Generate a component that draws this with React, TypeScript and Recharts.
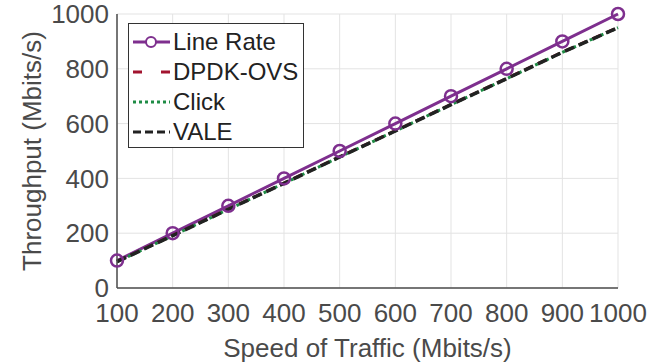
import React from 'react';
import { LineChart, Line, XAxis, YAxis, CartesianGrid } from 'recharts';

const speeds = [100, 200, 300, 400, 500, 600, 700, 800, 900, 1000];
const lineRate = [100, 200, 300, 400, 500, 600, 700, 800, 900, 1000];
const dpdkOvs = [97, 192, 288, 383, 479, 574, 670, 765, 861, 951];
const click = [96, 191, 287, 382, 478, 573, 669, 764, 860, 950];
const vale = [96, 191, 287, 382, 478, 573, 669, 764, 860, 950];

const xTicks = [100, 200, 300, 400, 500, 600, 700, 800, 900, 1000];
const yTicks = [0, 200, 400, 600, 800, 1000];

const data = speeds.map((s, i) => ({
  speed: s,
  lineRate: lineRate[i],
  dpdkOvs: dpdkOvs[i],
  click: click[i],
  vale: vale[i],
}));

const series = [
  { key: 'lineRate', name: 'Line Rate', color: '#7E2F8E', width: 3, dash: undefined, legendDash: undefined, marker: true },
  { key: 'dpdkOvs', name: 'DPDK-OVS', color: '#A2142F', width: 3, dash: '9 6', legendDash: '9 19', marker: false },
  { key: 'click', name: 'Click', color: '#1E8C45', width: 3, dash: '3 3', legendDash: '3 3', marker: false },
  { key: 'vale', name: 'VALE', color: '#222222', width: 3.5, dash: '10 5', legendDash: '8 4', marker: false },
];

const FONT = '"Liberation Sans", Arial, Helvetica, sans-serif';
const TEXT = '#4a4a4a';
const AXIS = '#4d4d4d';

// legend drawn as an overlay so the plot area keeps its size
const LegendBox = () => (
  <div
    style={{
      position: 'absolute',
      left: 128,
      top: 23,
      width: 176,
      height: 125,
      border: '1px solid #333',
      background: '#fff',
      boxSizing: 'border-box',
      paddingTop: 3,
    }}
  >
    {series.map((s) => (
      <div key={s.key} style={{ display: 'flex', alignItems: 'center', height: 30 }}>
        <svg width={44} height={20} style={{ flexShrink: 0 }}>
          <line x1={4} y1={10} x2={41} y2={10} stroke={s.color} strokeWidth={3} strokeDasharray={s.legendDash} />
          {s.marker && <circle cx={22} cy={10} r={5} fill="#fff" stroke={s.color} strokeWidth={2} />}
        </svg>
        <span style={{ fontFamily: FONT, fontSize: 24, color: '#222', lineHeight: '30px' }}>{s.name}</span>
      </div>
    ))}
  </div>
);

export default function App() {
  return (
    <div style={{ position: 'absolute', left: 0, top: 0, width: 670, height: 362, background: '#fff' }}>
      <LineChart width={670} height={362} data={data} margin={{ top: 14, right: 52, left: 0, bottom: 0 }}>
        <CartesianGrid stroke="#e3e3e3" strokeWidth={1} />
        <XAxis
          dataKey="speed"
          type="number"
          domain={[100, 1000]}
          ticks={xTicks}
          interval={0}
          height={74}
          tickLine={false}
          tickMargin={10}
          axisLine={{ stroke: AXIS, strokeWidth: 1.5 }}
          tick={{ fontSize: 26, fill: TEXT, fontFamily: FONT }}
          label={{ value: 'Speed of Traffic (Mbits/s)', position: 'insideBottom', offset: 5, fontSize: 26, fill: TEXT, fontFamily: FONT }}
        />
        <XAxis xAxisId="top" orientation="top" dataKey="speed" type="number" domain={[100, 1000]} height={0} tick={false} tickLine={false} axisLine={{ stroke: AXIS, strokeWidth: 1.5 }} />
        <YAxis
          type="number"
          domain={[0, 1000]}
          ticks={yTicks}
          interval={0}
          width={117}
          tickLine={false}
          axisLine={{ stroke: AXIS, strokeWidth: 1.5 }}
          tick={{ fontSize: 26, fill: TEXT, fontFamily: FONT }}
          label={{ value: 'Throughput (Mbits/s)', angle: -90, position: 'center', dx: -27, fontSize: 26, fill: TEXT, fontFamily: FONT }}
        />
        <YAxis yAxisId="right" orientation="right" type="number" domain={[0, 1000]} width={0} tick={false} tickLine={false} axisLine={{ stroke: AXIS, strokeWidth: 1.5 }} />
        {series.map((s) => (
          <Line
            key={s.key}
            type="linear"
            dataKey={s.key}
            name={s.name}
            stroke={s.color}
            strokeWidth={s.width}
            strokeDasharray={s.dash}
            dot={s.marker ? { r: 6, fill: 'none', stroke: s.color, strokeWidth: 2.5 } : false}
            activeDot={false}
            isAnimationActive={false}
          />
        ))}
      </LineChart>
      <LegendBox />
    </div>
  );
}
